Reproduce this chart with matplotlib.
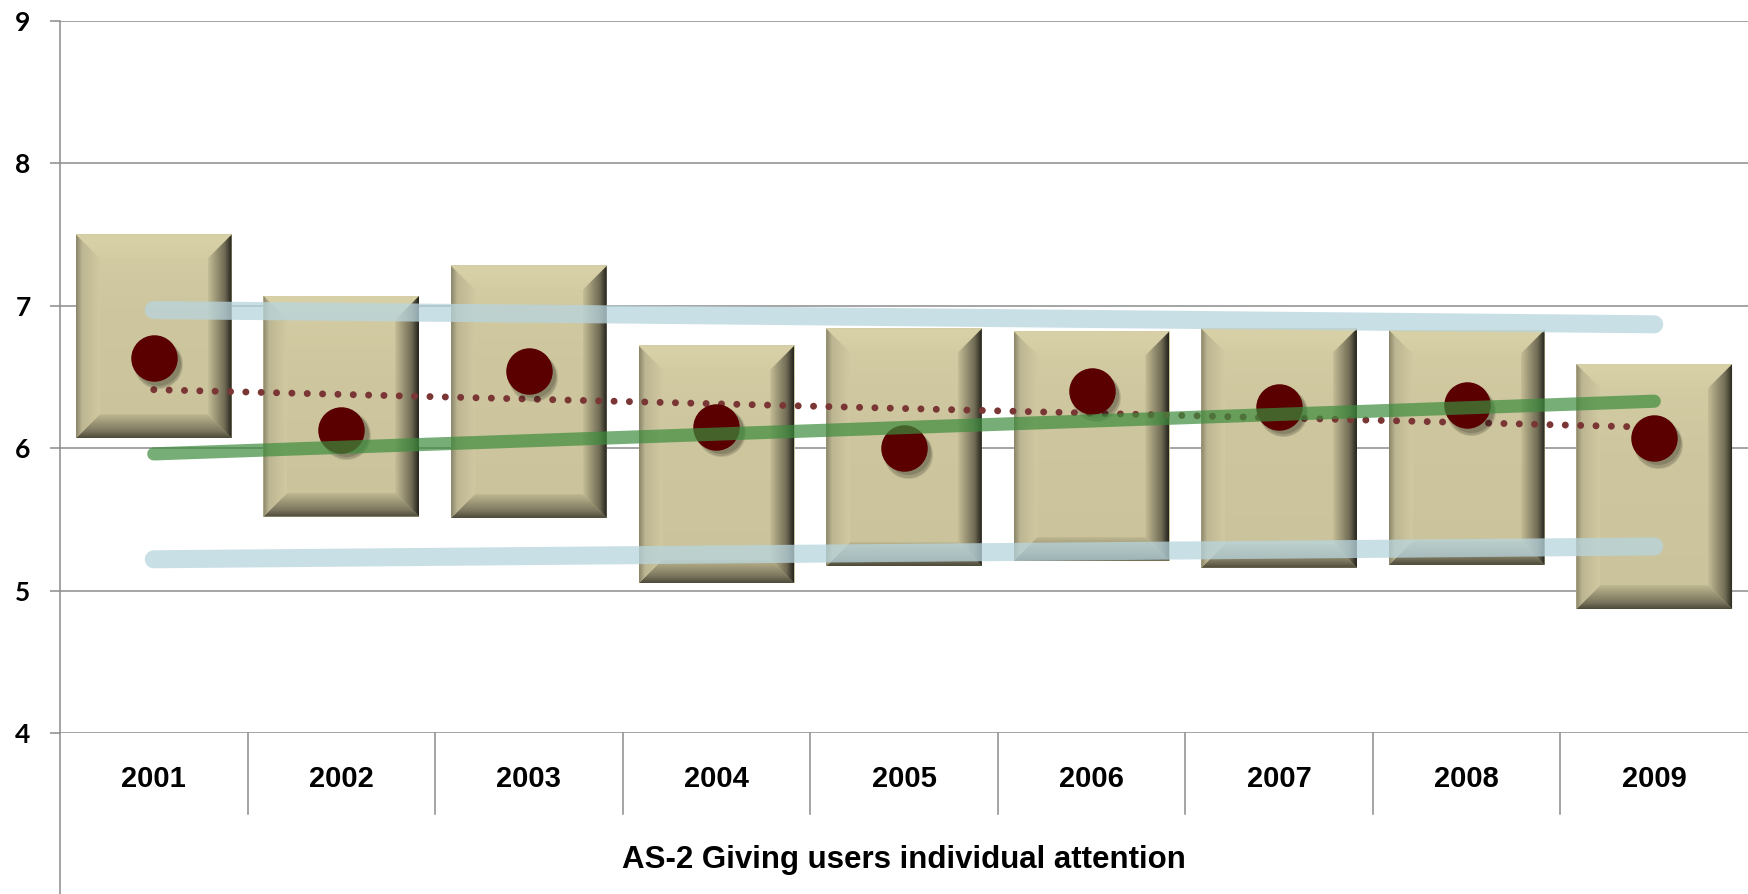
import numpy as np
import matplotlib
matplotlib.use('Agg')
import matplotlib.pyplot as plt
from matplotlib.patches import Polygon
from matplotlib.colors import to_rgb
from matplotlib.transforms import blended_transform_factory, offset_copy

years = ['2001', '2002', '2003', '2004', '2005', '2006', '2007', '2008', '2009']
box_low = [6.07, 5.52, 5.51, 5.05, 5.17, 5.21, 5.16, 5.18, 4.87]
box_high = [7.50, 7.07, 7.28, 6.72, 6.84, 6.82, 6.84, 6.83, 6.59]
means = [6.63, 6.13, 6.54, 6.15, 6.00, 6.40, 6.29, 6.30, 6.07]
# reference lines, values at 2001 and 2009
upper_band = [6.97, 6.87]
lower_band = [5.22, 5.31]
green_trend = [5.96, 6.33]
xlabel = 'AS-2 Giving users individual attention'

W, H, DPI = 1748, 894, 100
fig = plt.figure(figsize=(W / DPI, H / DPI), dpi=DPI)
left_px, top_px, bottom_px = 60, 21, 733
ax = fig.add_axes([left_px / W, 1 - bottom_px / H, 1 - left_px / W, (bottom_px - top_px) / H])

x = np.arange(len(years))
ax.set_xlim(-0.5, len(years) - 0.5)
ax.set_ylim(4, 9)

# bevel size in data units from pixels
px_x = (W - left_px) / len(years)
px_y = (bottom_px - top_px) / 5
bx, by = 24 / px_x, 24 / px_y
bw = 0.83


def gradient(c_from, c_mid, c_to, n=64, split=0.35):
    c_from, c_mid, c_to = map(np.array, map(to_rgb, (c_from, c_mid, c_to)))
    t = np.linspace(0, 1, n)[:, None]
    return np.where(t < split, c_from + (c_mid - c_from) * (t / split),
                    c_mid + (c_to - c_mid) * ((t - split) / (1 - split)))


def shade(poly_pts, extent, img, z):
    patch = Polygon(poly_pts, closed=True, transform=ax.transData)
    im = ax.imshow(img, extent=extent, aspect='auto', interpolation='bilinear',
                   zorder=z, origin='upper')
    im.set_clip_path(patch)


for xi, lo, hi in zip(x, box_low, box_high):
    x0, x1 = xi - bw / 2, xi + bw / 2
    # face with slight vertical gradient
    face_img = gradient('#d4cda4', '#cdc69e', '#cac39b')[:, None, :]
    ax.imshow(face_img, extent=(x0, x1, lo, hi), aspect='auto', zorder=2, origin='upper')
    # top bevel (outer at top)
    g = gradient('#d8d1a8', '#d7d0a7', '#d3cca3')[:, None, :]
    shade([(x0, hi), (x1, hi), (x1 - bx, hi - by), (x0 + bx, hi - by)], (x0, x1, hi - by, hi), g, 3)
    # bottom bevel (outer at bottom)
    g = gradient('#4d4a3b', '#7c775f', '#bfb891', split=0.3)[::-1][:, None, :]
    shade([(x0, lo), (x1, lo), (x1 - bx, lo + by), (x0 + bx, lo + by)], (x0, x1, lo, lo + by), g, 3)
    # left bevel (outer at left)
    g = gradient('#8a856a', '#bdb692', '#d0c9a1', split=0.25)[None, :, :]
    shade([(x0, lo), (x0 + bx, lo + by), (x0 + bx, hi - by), (x0, hi)], (x0, x0 + bx, lo, hi), g, 3)
    # right bevel (outer at right)
    g = gradient('#24241c', '#6f6a54', '#c4bd96', split=0.3)[::-1][None, :, :]
    shade([(x1, lo), (x1 - bx, lo + by), (x1 - bx, hi - by), (x1, hi)], (x1 - bx, x1, lo, hi), g, 3)

# reference lines
ends = [x[0], x[-1]]
ax.plot(ends, upper_band, color='#b8d5de', alpha=0.75, lw=13, solid_capstyle='round', zorder=6)
ax.plot(ends, lower_band, color='#b8d5de', alpha=0.75, lw=13, solid_capstyle='round', zorder=6)

# linear trend of the means (dotted)
k, b = np.polyfit(x, means, 1)
ax.plot(ends, [k * ends[0] + b, k * ends[1] + b], color='#7a3535', lw=5.0,
        linestyle=(0, (0.01, 2.2)), dash_capstyle='round', zorder=6.5)

# soft shadow under the mean dots
for dx, dy, sz, al in [(3, -4, 1250, 0.10), (3, -4, 1150, 0.12), (3, -3, 1050, 0.15)]:
    ax.scatter(x, means, s=sz, color='#000000', alpha=al, linewidths=0, zorder=6.8,
               transform=offset_copy(ax.transData, fig=fig, x=dx, y=dy, units='points'))
ax.scatter(x, means, s=1120, color='#5a0000', zorder=7, linewidths=0)

ax.plot(ends, green_trend, color='#3d8c3d', alpha=0.7, lw=9.5, solid_capstyle='round', zorder=8)

# grid and axes
ax.set_yticks([4, 5, 6, 7, 8, 9])
ax.yaxis.grid(True, color='#8c8c8c', lw=1.1)
ax.set_axisbelow(True)
for s in ['top', 'right', 'bottom']:
    ax.spines[s].set_visible(False)
ax.spines['left'].set_color('#8c8c8c')
ax.spines['left'].set_linewidth(1.1)
ax.spines['left'].set_zorder(0.5)
ax.tick_params(axis='y', length=7.2, width=1.1, color='#8c8c8c', pad=14, labelsize=19)
for lab in ax.get_yticklabels():
    lab.set_fontfamily('Lato')
    lab.set_fontweight('bold')

ax.set_xticks([])
trans = blended_transform_factory(ax.transData, ax.transAxes)
span = bottom_px - top_px
# extend the left axis and category separators below the plot
ax.plot([-0.5, -0.5], [0, -161 / span], transform=trans, color='#8c8c8c', lw=1.1, clip_on=False, zorder=0.5)
for xi in x[1:]:
    ax.plot([xi - 0.5, xi - 0.5], [0, -81 / span], transform=trans, color='#8c8c8c', lw=1.1, clip_on=False)
for xi, yr in zip(x, years):
    ax.text(xi, -46 / span, yr, transform=trans, ha='center', va='center',
            fontsize=21, fontweight='bold', family='Liberation Sans')
ax.text((len(years) - 1) / 2, -127 / span, xlabel, transform=trans, ha='center', va='center',
        fontsize=22.5, fontweight='bold', family='Liberation Sans')

fig.savefig('out.png', dpi=DPI)
